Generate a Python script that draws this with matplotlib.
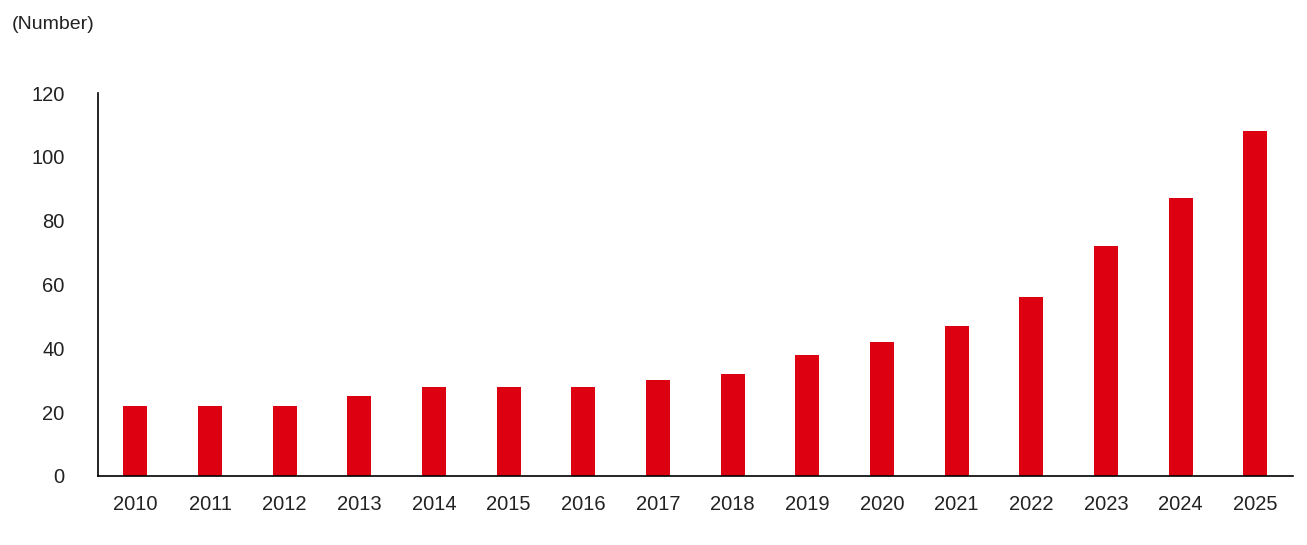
import matplotlib
matplotlib.use("Agg")
from matplotlib import pyplot as plt

years = [str(y) for y in range(2010, 2026)]
counts = [22, 22, 22, 25, 28, 28, 28, 30, 32, 38, 42, 47, 56, 72, 87, 108]
yticks = [0, 20, 40, 60, 80, 100, 120]

plt.rcParams["font.family"] = ["Liberation Sans", "DejaVu Sans"]

fig = plt.figure(figsize=(13.07, 5.45), dpi=100)
ax = fig.add_axes([0.075, 0.127, 0.914, 0.702])
x = range(len(years))
ax.bar(x, counts, width=0.32, color="#DC0011")
ax.set_xlim(-0.5, len(years) - 0.5)
ax.set_ylim(0, 120)
ax.set_yticks(yticks)
ax.set_xticks(list(x))
ax.set_xticklabels(years)
ax.tick_params(length=0, labelsize=14.5, colors="#222222")
ax.tick_params(axis="x", pad=14)
ax.tick_params(axis="y", pad=24)
for s in ("top", "right"):
    ax.spines[s].set_visible(False)
for s in ("left", "bottom"):
    ax.spines[s].set_linewidth(1.2)
fig.text(0.009, 0.955, "(Number)", fontsize=14, va="center", ha="left", color="#222222")
fig.savefig("out.png", dpi=100)
